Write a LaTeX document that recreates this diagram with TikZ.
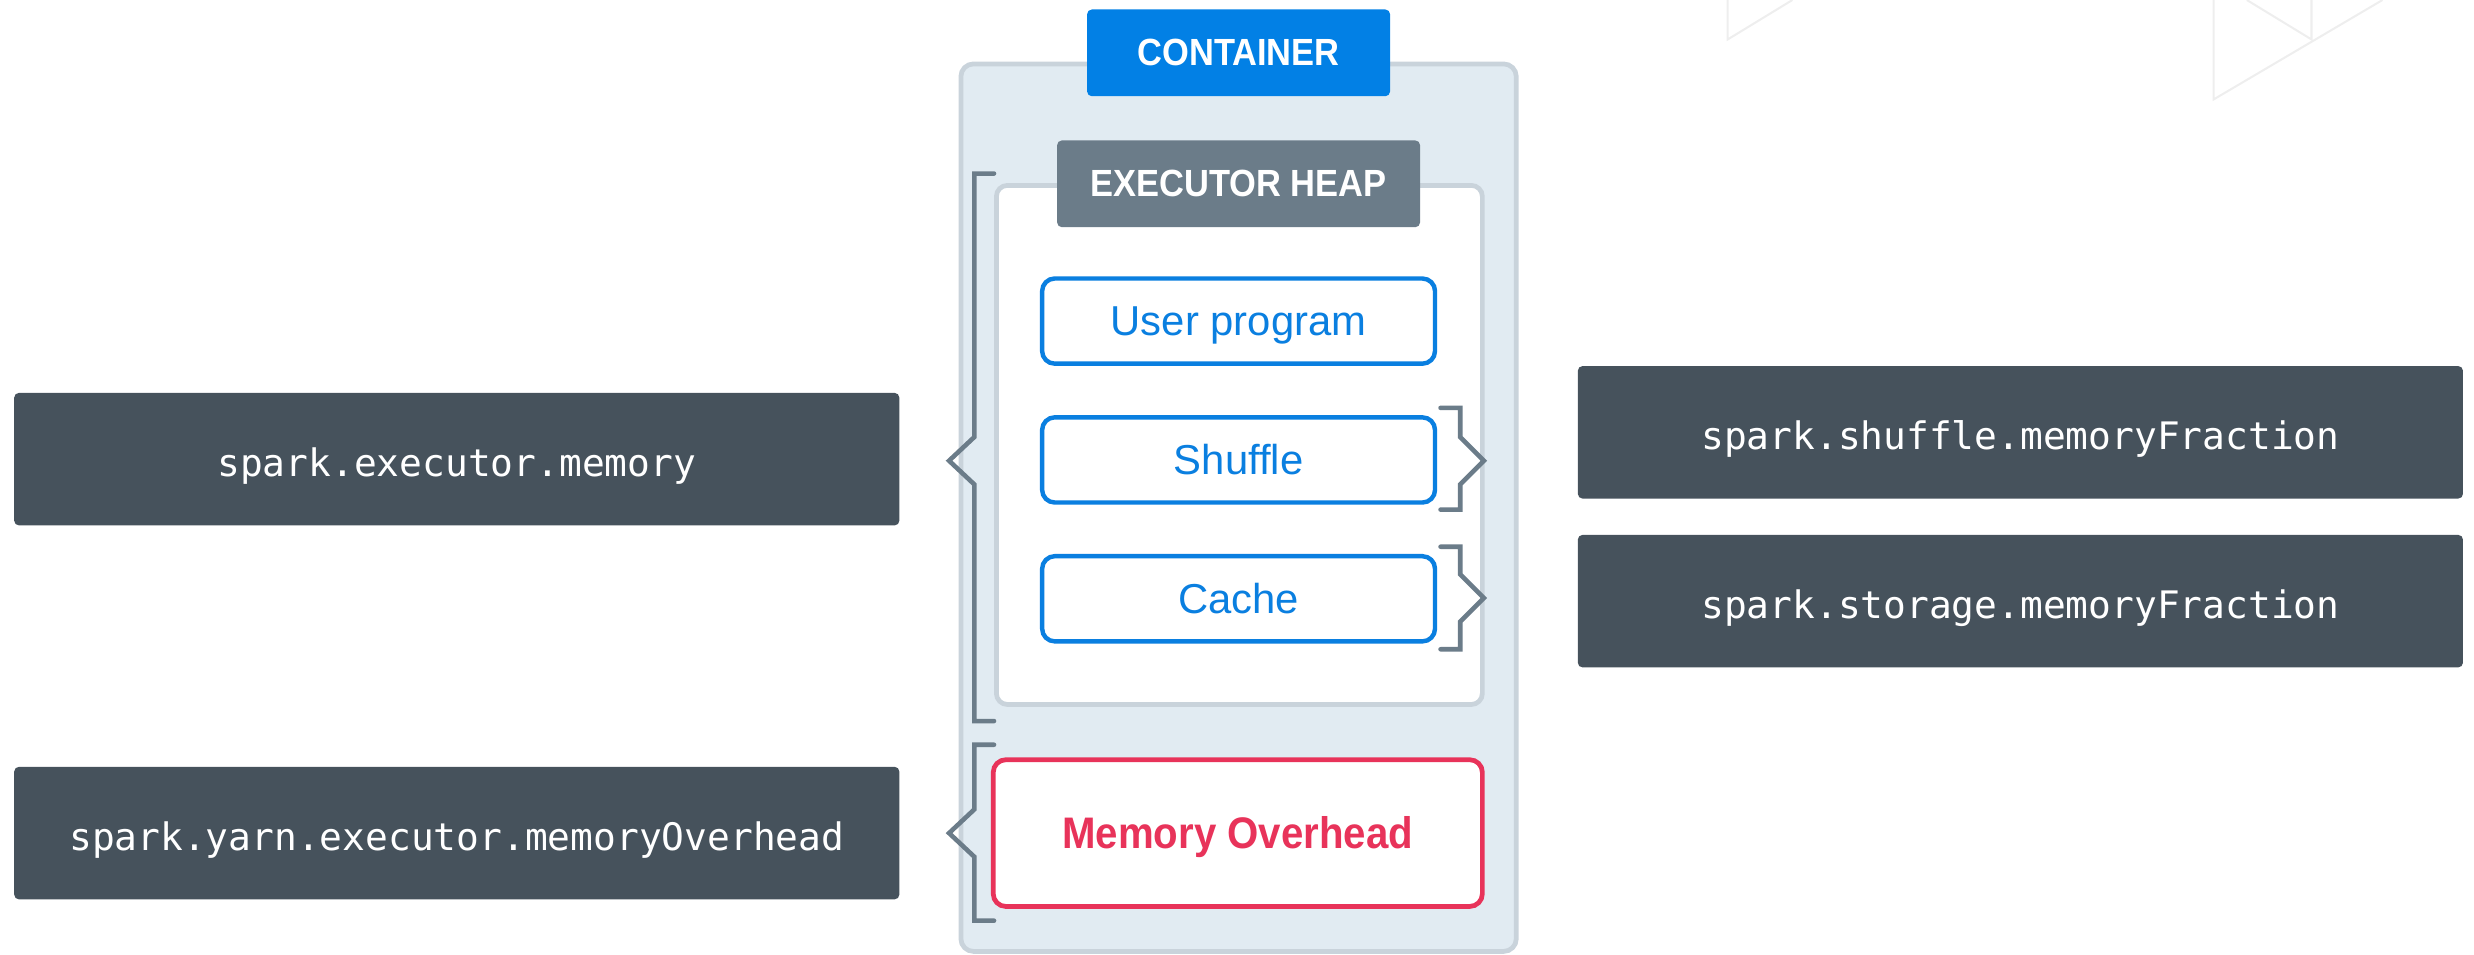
\documentclass[tikz,border=0pt]{standalone}
\usepackage{fontspec}
\setmainfont{Liberation Sans}
\newfontfamily\headfont{Liberation Sans}[FakeStretch=0.91]
\newfontfamily\codefont{DejaVu Sans Mono}

\definecolor{shellfill}{HTML}{E1EBF2}
\definecolor{shelledge}{HTML}{C9D3DB}
\definecolor{tabblue}{HTML}{0280E5}
\definecolor{tabslate}{HTML}{6B7C89}
\definecolor{partblue}{HTML}{0A7FE0}
\definecolor{overred}{HTML}{E8335A}
\definecolor{paramfill}{HTML}{46525C}
\definecolor{bracegray}{HTML}{6B7C89}
\definecolor{faintline}{HTML}{EEEEEE}

\tikzset{
  shell/.style={rectangle, rounded corners=8pt, draw=shelledge, line width=3pt, fill=shellfill},
  heapbox/.style={rectangle, rounded corners=7pt, draw=shelledge, line width=3pt, fill=white},
  tab/.style={rectangle, rounded corners=3pt, inner sep=0pt, text=white,
    font=\headfont\bfseries\fontsize{24}{24}\selectfont},
  part/.style={rectangle, rounded corners=8pt, draw=partblue, line width=2.8pt, fill=white,
    minimum width=249pt, minimum height=54pt, text=partblue, inner sep=0pt,
    text height=20pt, text depth=1.4pt,
    font=\fontsize{26.5}{26.5}\selectfont},
  overbox/.style={rectangle, rounded corners=8pt, draw=overred, line width=3pt, fill=white,
    minimum width=310pt, minimum height=93pt, text=overred, inner sep=0pt,
    text height=21pt, text depth=1.2pt,
    font=\headfont\bfseries\fontsize{28}{28}\selectfont},
  param/.style={rectangle, rounded corners=3pt, fill=paramfill, minimum width=561pt,
    minimum height=84pt, text=white, inner sep=0pt,
    text height=23.5pt, text depth=2pt,
    font=\codefont\fontsize{24}{24}\selectfont},
  brace/.style={draw=bracegray, line width=2.9pt, line cap=round, line join=miter},
  deco/.style={draw=faintline, line width=1.3pt}
}

% bracket opening to the right, tip pointing left: x, top, bottom, tip y
\newcommand\bracketleft[4]{%
  \draw[brace] ({#1+12.5},#2) -- (#1,#2) -- (#1,{#4-15}) -- ({#1-16},#4)
    -- (#1,{#4+15}) -- (#1,#3) -- ({#1+12.5},#3);}
% bracket opening to the left, tip pointing right
\newcommand\bracketright[4]{%
  \draw[brace] ({#1-12.5},#2) -- (#1,#2) -- (#1,{#4-15}) -- ({#1+15},#4)
    -- (#1,{#4+15}) -- (#1,#3) -- ({#1-12.5},#3);}

\begin{document}
\begin{tikzpicture}[x=1pt,y=-1pt]
\useasboundingbox (0,0) rectangle (1568,605);

% faint background pattern
\draw[deco] (1095,0) -- (1095,25) -- (1136,0);
\draw[deco] (1403,0) -- (1403,63) -- (1510,0);
\draw[deco] (1424,0) -- (1465,25) -- (1465,0);

% container and its contents
\node[shell, minimum width=352pt, minimum height=562.5pt] (container) at (785,321.75) {};
\node[heapbox, minimum width=308pt, minimum height=329pt] (heap) at (785.5,282) {};
\node[tab, fill=tabblue, minimum width=192pt, minimum height=55pt] (containertab) at (785,33.5) {CONTAINER};
\node[tab, fill=tabslate, minimum width=230pt, minimum height=55pt] (heaptab) at (785,116.5) {EXECUTOR HEAP};

\node[part] (user) at (785,203.5) {User program};
\node[part] (shuffle) at (785,291.5) {Shuffle};
\node[part] (cache) at (785,379.5) {Cache};
\node[overbox] (overhead) at (784.5,528) {Memory Overhead};

% configuration parameters
\node[param] (exmem) at (289.5,291) {spark.executor.memory};
\node[param] (yarnover) at (289.5,528) {spark.yarn.executor.memoryOverhead};
\node[param] (shufflefrac) at (1280.5,274) {spark.shuffle.memoryFraction};
\node[param] (storagefrac) at (1280.5,381) {spark.storage.memoryFraction};

% brackets grouping the memory regions
\bracketleft{617.5}{110}{457}{292}
\bracketleft{617.5}{472}{583.5}{528}
\bracketright{925.5}{258.5}{323}{292}
\bracketright{925.5}{346.5}{411.5}{379}
\end{tikzpicture}
\end{document}
